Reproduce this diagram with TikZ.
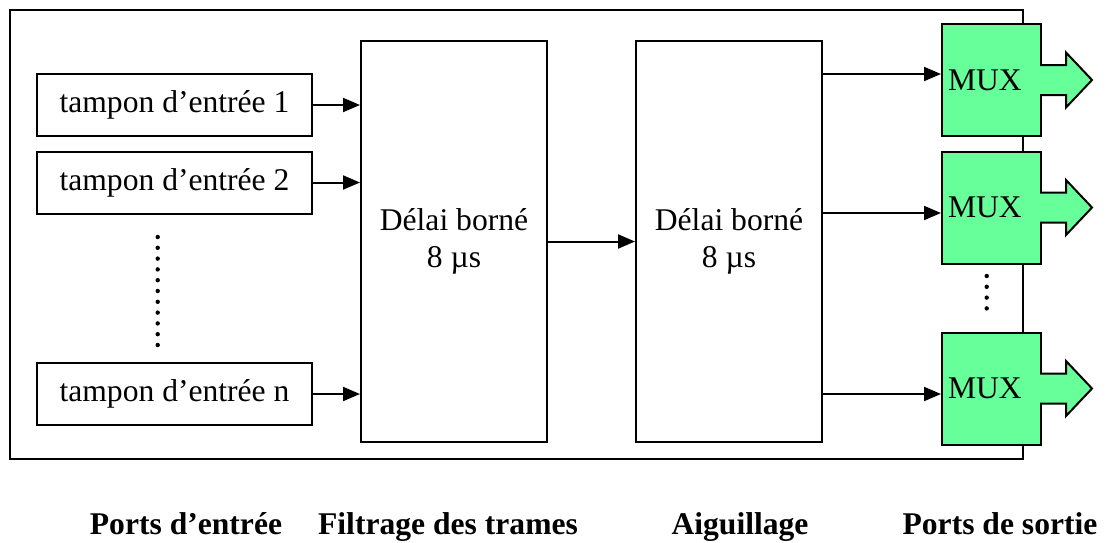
\documentclass[tikz,border=0pt]{standalone}
\usepackage{fontspec}
\setmainfont{Liberation Serif}
\usepackage{tikz}
\usetikzlibrary{arrows.meta, positioning, calc}

\definecolor{muxgreen}{RGB}{102,255,153}

\begin{document}
\begin{tikzpicture}[
    x=0.5pt, y=-0.5pt,
    every node/.style={font=\fontsize{15.8}{18.5}\selectfont},
    tampon/.style={draw, line width=1pt, minimum width=137.5pt, minimum height=31pt, inner sep=0pt},
    bloc/.style={draw, line width=1pt, minimum width=93pt, minimum height=200.5pt, align=center},
    mux/.style={draw, line width=1pt, fill=muxgreen, minimum width=49.5pt, minimum height=56pt,
        inner xsep=3pt, text width=43.5pt, align=left},
    titre/.style={font=\fontsize{15.8}{18.5}\selectfont\bfseries, anchor=base},
    arr/.style={line width=1pt, -{Triangle[length=8.5pt, width=7pt]}}
]
    \useasboundingbox (0,0) rectangle (1106,542);

    % cadre du commutateur
    \draw[line width=1pt] (10,10) rectangle (1023,459);

    \node[tampon] (in1) at (174.5,105) {tampon d’entrée 1};
    \node[tampon] (in2) at (174.5,182.5) {tampon d’entrée 2};
    \node[tampon] (inn) at (174.5,394) {tampon d’entrée n};

    \node[bloc] (filt) at (454,241.5) {Délai borné\\8 µs};
    \node[bloc] (aig) at (729,241.5) {Délai borné\\8 µs};

    \node[mux] (mux1) at (991.5,80) {MUX};
    \node[mux] (mux2) at (991.5,207.5) {MUX};
    \node[mux] (mux3) at (991.5,388.5) {MUX};

    % fleches de sortie des MUX
    \foreach \m in {mux1, mux2, mux3} {
        \filldraw[line width=1pt, fill=muxgreen, line join=miter]
            ($(\m.east)+(-2,-15)$) -- ++(26,0) -- ++(0,-12.5) -- ++(26,27.5)
            -- ++(-26,27.5) -- ++(0,-12.5) -- ++(-26,0);
    }

    % points de suspension
    \foreach \k in {0,...,10}
        \fill (157.7,237+10.8*\k) circle (1.1pt);
    \foreach \k in {0,...,3}
        \fill (986.7,276+10.8*\k) circle (1.1pt);

    \draw[arr] (in1.east) -- (in1.east -| filt.west);
    \draw[arr] (in2.east) -- (in2.east -| filt.west);
    \draw[arr] (inn.east) -- (inn.east -| filt.west);
    \draw[arr] (filt.east) -- (aig.west);

    \coordinate (s1) at (0,74);
    \coordinate (s2) at (0,213);
    \coordinate (s3) at (0,394);
    \draw[arr] (aig.east |- s1) -- (mux1.west |- s1);
    \draw[arr] (aig.east |- s2) -- (mux2.west |- s2);
    \draw[arr] (aig.east |- s3) -- (mux3.west |- s3);

    \node[titre] (t1) at (186,534) {Ports d’entrée};
    \node[titre] (t2) at (448,534) {Filtrage des trames};
    \node[titre] (t3) at (740,534) {Aiguillage};
    \node[titre] (t4) at (1000,534) {Ports de sortie};
\end{tikzpicture}
\end{document}
